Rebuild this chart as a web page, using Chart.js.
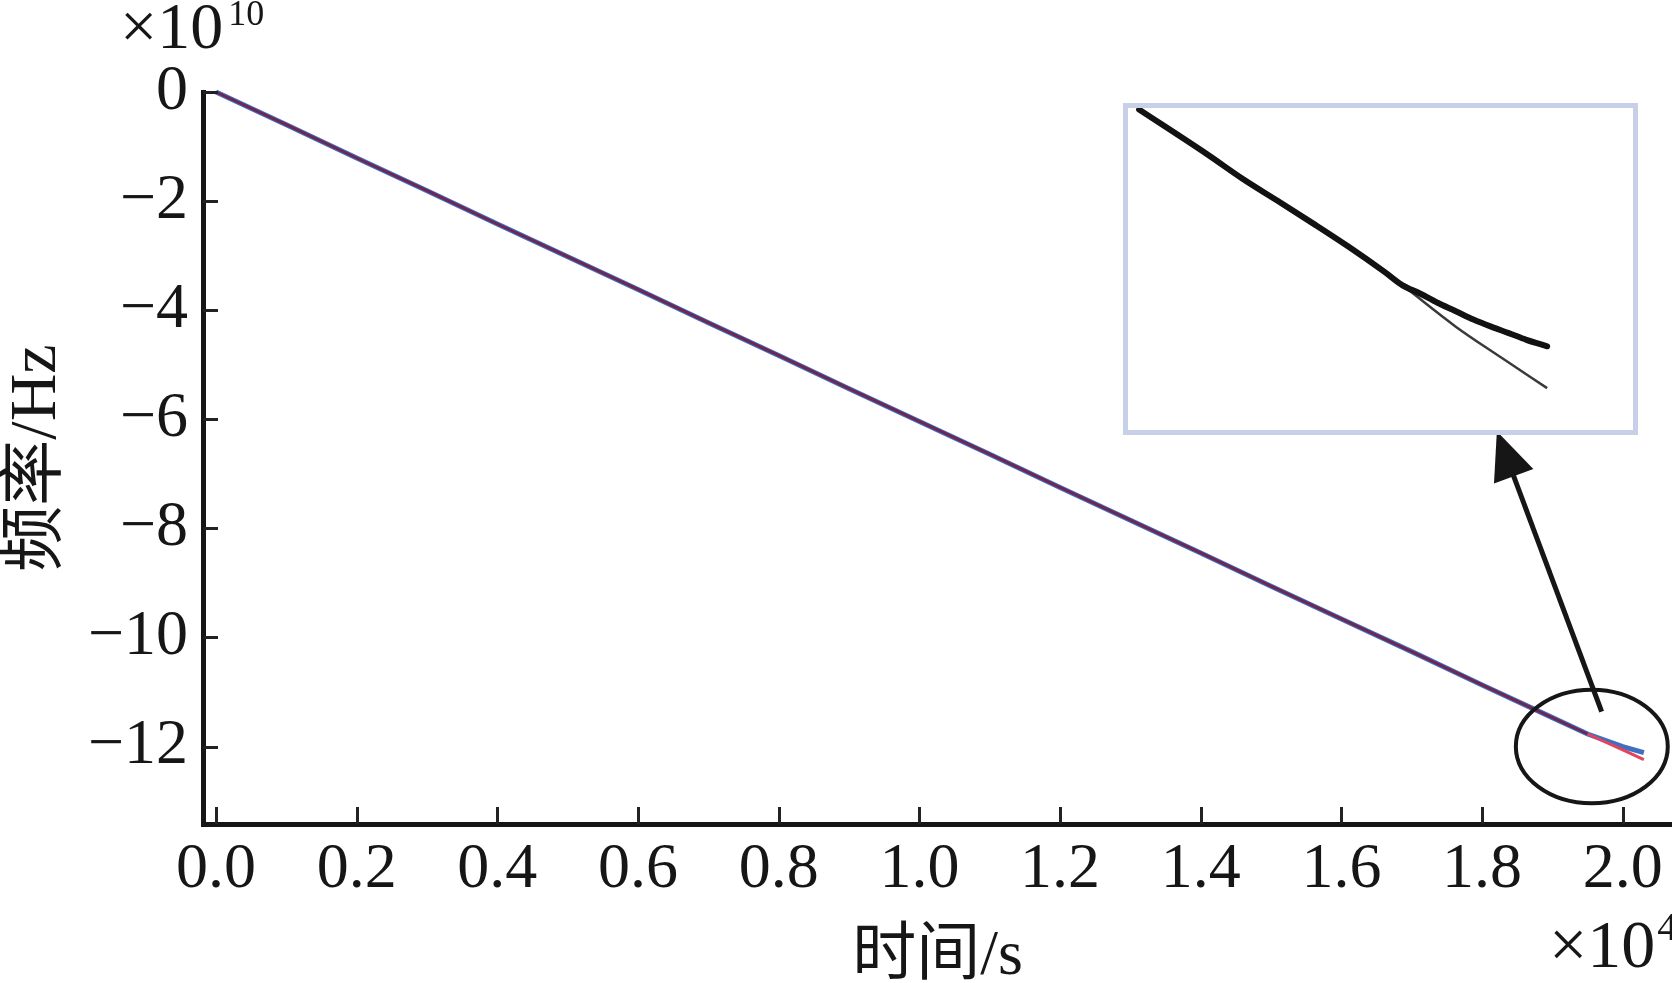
<!DOCTYPE html>
<html><head><meta charset="utf-8">
<script src="https://cdn.jsdelivr.net/npm/chart.js@4.4.1/dist/chart.umd.min.js"></script>
<style>
html,body{margin:0;padding:0;background:#fff;overflow:hidden}
#wrap{position:relative;width:1672px;height:983px;background:#fff}
#main{position:absolute;left:0;top:0}
#insetBox{position:absolute;left:1123px;top:103px;width:515px;height:332px;box-sizing:border-box;border:5px solid #c7d0e8;background:#fff}
#inset{display:block}
</style></head><body>
<div id="wrap">
<canvas id="main" width="1672" height="983"></canvas>
<div id="insetBox"><canvas id="inset" width="505" height="322"></canvas></div>
</div>
<script>
// time in units of 1e4 s
const timeX = [0, 0.1, 0.2, 0.3, 0.4, 0.5, 0.6, 0.7, 0.8, 0.9, 1.0, 1.1, 1.2, 1.3, 1.4, 1.5, 1.6, 1.7, 1.8, 1.9, 1.95, 2.0, 2.03];
// frequency in units of 1e10 Hz
const freqRed  = [0, -0.60, -1.21, -1.81, -2.42, -3.02, -3.62, -4.23, -4.83, -5.44, -6.04, -6.64, -7.25, -7.85, -8.45, -9.06, -9.66, -10.26, -10.87, -11.47, -11.77, -12.06, -12.24];
const freqBlue = [0, -0.60, -1.21, -1.81, -2.42, -3.02, -3.62, -4.23, -4.83, -5.44, -6.04, -6.64, -7.25, -7.85, -8.45, -9.06, -9.66, -10.26, -10.87, -11.47, -11.77, -12.00, -12.11];
const redSplitX = 1.95;

const xTicks = [0.0, 0.2, 0.4, 0.6, 0.8, 1.0, 1.2, 1.4, 1.6, 1.8, 2.0];
const yTicks = [0, -2, -4, -6, -8, -10, -12];
const xRange = [-0.0185, 2.07];
const yRange = [-13.42, 0];

const xTitle = '时间/s';
const yTitle = '频率/Hz';
const xExp = '4';
const yExp = '10';

// inset (zoomed view, normalized 0-100 units)
const insetThickX = [2.2, 15.6, 22.6, 29.7, 36.7, 43.7, 50.8, 54.3, 57.8, 61.3, 64.9, 68.4, 71.9, 75.4, 78.9, 83.0];
const insetThickY = [0.5, 14.3, 21.9, 28.9, 35.9, 43.1, 50.9, 55.0, 57.6, 60.5, 63.1, 65.7, 67.9, 69.9, 72.0, 74.0];
const insetThinX  = [2.2, 15.6, 22.6, 29.7, 36.7, 43.7, 50.8, 54.3, 64.9, 73.9, 83.0];
const insetThinY  = [0.5, 14.3, 21.9, 28.9, 35.9, 43.1, 50.9, 55.0, 67.9, 77.5, 87.0];

// annotations in data units
const circleAnno = {cx: 1.956, cy: -12.0, rx: 0.108, ry: 1.04};
const arrowAnno = {x0: 1.970, y0: -11.36, x1: 1.821, y1: -6.22};

const serif = "'Liberation Serif','Times New Roman','Noto Sans CJK SC',serif";
const ink = '#161616';
const blueColor = '#3f6fc2';
const mixColor = '#6e2750';
const redColor = '#e2455a';

const toPts = (xs, ys) => xs.map((x, i) => ({x, y: ys[i]}));

const fmtY = v => v === 0 ? '0' : '\u2212' + Math.abs(v);

const decorPlugin = {
  id: 'decor',
  afterDraw(chart) {
    const ctx = chart.ctx, xs = chart.scales.x, ys = chart.scales.y;
    ctx.save();
    // inward ticks
    ctx.strokeStyle = '#222';
    ctx.lineWidth = 3;
    ctx.beginPath();
    xTicks.forEach(v => {
      const px = Math.round(xs.getPixelForValue(v)) + 0.5;
      ctx.moveTo(px, ys.bottom);
      ctx.lineTo(px, ys.bottom - 17);
    });
    yTicks.forEach(v => {
      const py = Math.round(ys.getPixelForValue(v)) + 0.5;
      ctx.moveTo(xs.left, py);
      ctx.lineTo(xs.left + 15, py);
    });
    ctx.stroke();

    // ellipse annotation
    const cx = xs.getPixelForValue(circleAnno.cx), cy = ys.getPixelForValue(circleAnno.cy);
    const rx = Math.abs(xs.getPixelForValue(circleAnno.cx + circleAnno.rx) - cx);
    const ry = Math.abs(ys.getPixelForValue(circleAnno.cy + circleAnno.ry) - cy);
    ctx.strokeStyle = ink;
    ctx.lineWidth = 4;
    ctx.beginPath();
    ctx.ellipse(cx, cy, rx, ry, 0, 0, Math.PI * 2);
    ctx.stroke();

    // arrow annotation
    const ax0 = xs.getPixelForValue(arrowAnno.x0), ay0 = ys.getPixelForValue(arrowAnno.y0);
    const ax1 = xs.getPixelForValue(arrowAnno.x1), ay1 = ys.getPixelForValue(arrowAnno.y1);
    const dx = ax1 - ax0, dy = ay1 - ay0, len = Math.hypot(dx, dy);
    const ux = dx / len, uy = dy / len;
    const headLen = 48, headHalf = 21;
    const bx = ax1 - ux * headLen, by = ay1 - uy * headLen;
    ctx.lineWidth = 5;
    ctx.beginPath();
    ctx.moveTo(ax0, ay0);
    ctx.lineTo(bx + ux * 4, by + uy * 4);
    ctx.stroke();
    ctx.fillStyle = ink;
    ctx.beginPath();
    ctx.moveTo(ax1, ay1);
    ctx.lineTo(bx - uy * headHalf, by + ux * headHalf);
    ctx.lineTo(bx + uy * headHalf, by - ux * headHalf);
    ctx.closePath();
    ctx.fill();

    // exponent labels
    ctx.fillStyle = ink;
    ctx.textBaseline = 'alphabetic';
    ctx.textAlign = 'left';
    ctx.font = '66px ' + serif;
    const tX = 120, tY = 48;
    ctx.fillText('\u00d710', tX, tY);
    const w1 = ctx.measureText('\u00d710').width;
    ctx.font = '36px ' + serif;
    ctx.fillText(yExp, tX + w1 + 5, 25);

    ctx.font = '68px ' + serif;
    const bX = 1549, bY = 967;
    ctx.fillText('\u00d710', bX, bY);
    const w2 = ctx.measureText('\u00d710').width;
    ctx.font = '40px ' + serif;
    ctx.fillText(xExp, bX + w2 + 2, 940);
    ctx.restore();
  }
};

new Chart(document.getElementById('main'), {
  type: 'line',
  data: {
    datasets: [
      {
        label: 'blue',
        data: toPts(timeX, freqBlue),
        borderColor: blueColor,
        borderWidth: 5,
        pointRadius: 0,
        tension: 0,
        clip: false,
        order: 2
      },
      {
        label: 'red',
        data: toPts(timeX, freqRed),
        borderColor: mixColor,
        borderWidth: 3,
        pointRadius: 0,
        tension: 0,
        clip: false,
        order: 1,
        segment: {
          borderColor: c => c.p0.parsed.x >= redSplitX ? redColor : mixColor
        }
      }
    ]
  },
  options: {
    responsive: false,
    animation: false,
    devicePixelRatio: 1,
    layout: {padding: {top: 92, right: 0, bottom: 0, left: 0}},
    plugins: {legend: {display: false}, tooltip: {enabled: false}},
    scales: {
      x: {
        type: 'linear',
        min: xRange[0], max: xRange[1],
        afterBuildTicks: s => { s.ticks = xTicks.map(v => ({value: v})); },
        afterFit: s => { s.height = 159; },
        grid: {display: false, drawTicks: false},
        border: {display: true, width: 5, color: ink},
        ticks: {
          autoSkip: false, maxRotation: 0, padding: 8, color: ink,
          font: {family: serif, size: 64},
          callback: v => Number(v).toFixed(1)
        },
        title: {
          display: true, text: xTitle, color: ink,
          font: {family: serif, size: 64, lineHeight: 0.8},
          padding: {top: 0, bottom: 0}
        }
      },
      y: {
        type: 'linear',
        min: yRange[0], max: yRange[1],
        afterBuildTicks: s => { s.ticks = yTicks.map(v => ({value: v})); },
        afterFit: s => { s.width = 203; },
        grid: {display: false, drawTicks: false},
        border: {display: true, width: 5, color: ink},
        ticks: {
          autoSkip: false, padding: 15, color: ink,
          font: {family: serif, size: 64},
          callback: v => fmtY(v)
        },
        title: {
          display: true, text: yTitle, color: ink,
          font: {family: serif, size: 66, lineHeight: 1},
          padding: {top: 5, bottom: 0}
        }
      }
    }
  },
  plugins: [decorPlugin]
});

new Chart(document.getElementById('inset'), {
  type: 'line',
  data: {
    datasets: [
      {
        data: toPts(insetThinX, insetThinY),
        borderColor: '#3a3a3a',
        borderWidth: 2.5,
        pointRadius: 0, cubicInterpolationMode: 'monotone', clip: false, order: 2
      },
      {
        data: toPts(insetThickX, insetThickY),
        borderColor: '#121212',
        borderWidth: 6,
        borderCapStyle: 'round',
        pointRadius: 0, cubicInterpolationMode: 'monotone', clip: false, order: 1
      }
    ]
  },
  options: {
    responsive: false,
    animation: false,
    devicePixelRatio: 1,
    layout: {padding: 0},
    plugins: {legend: {display: false}, tooltip: {enabled: false}},
    scales: {
      x: {type: 'linear', min: 0, max: 100, display: false},
      y: {type: 'linear', min: 0, max: 100, reverse: true, display: false}
    }
  }
});
</script>
</body></html>
